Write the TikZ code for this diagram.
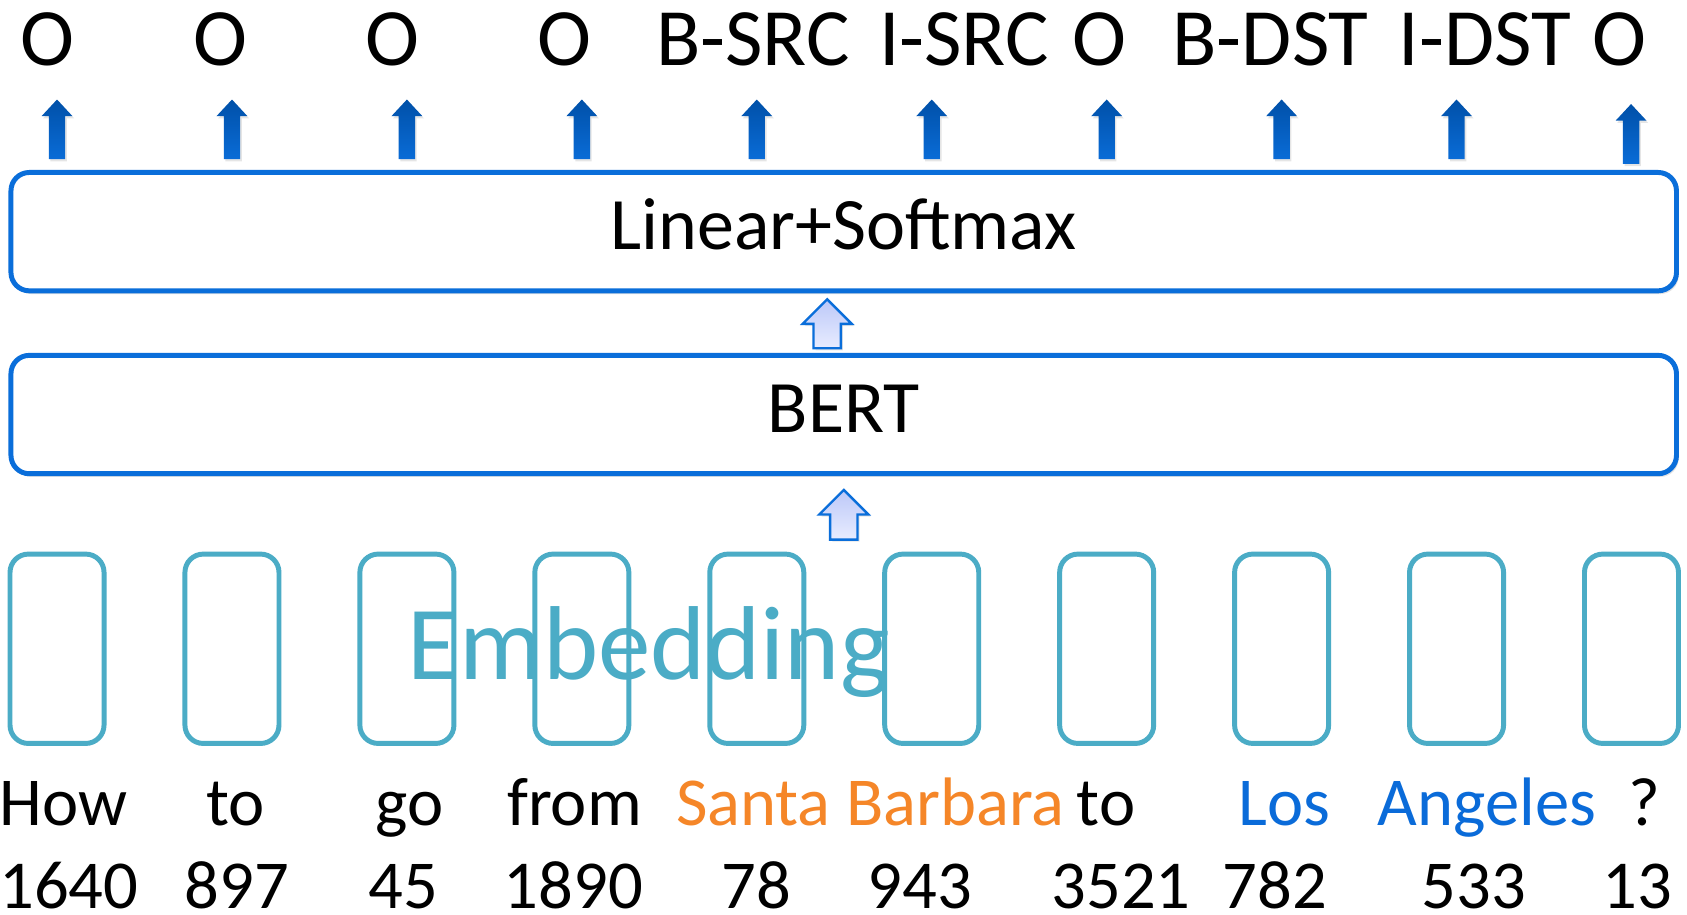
\documentclass[tikz,border=0pt]{standalone}
\usepackage{fontspec}
\setmainfont{Carlito}
\usetikzlibrary{shadows}

\definecolor{boxblue}{RGB}{10,110,218}
\definecolor{arrowtop}{RGB}{0,80,168}
\definecolor{arrowbot}{RGB}{10,108,215}
\definecolor{hollowtop}{RGB}{188,200,248}
\definecolor{hollowbot}{RGB}{232,236,255}
\definecolor{embteal}{RGB}{75,172,198}
\definecolor{srcorange}{RGB}{245,134,40}
\definecolor{dstblue}{RGB}{10,107,217}

% block arrow pointing up: #1 style, #2 centre x, #3 tip y, #4 foot y,
% #5 half head width, #6 half shaft width, #7 head height, #8 name
\newcommand\upblock[8]{%
  \path[#1] (#2-#6,#4) -- (#2-#6,#3+#7) -- (#2-#5,#3+#7) -- (#2,#3)
    -- (#2+#5,#3+#7) -- (#2+#6,#3+#7) -- (#2+#6,#4) -- cycle;
  \coordinate (#8) at (#2,#3);}

\tikzset{
  layerbox/.style={draw=boxblue, line width=4.6bp, rounded corners=17bp,
    fill=white, minimum width=1548bp, minimum height=110bp, inner sep=0pt,
    text height=44bp, text depth=11bp,
    drop shadow={opacity=0.22, shadow xshift=2bp, shadow yshift=-3bp},
    font=\fontsize{69}{80}\selectfont},
  embbox/.style={draw=embteal, line width=4.6bp, rounded corners=17bp,
    minimum width=87.4bp, minimum height=176bp, inner sep=0pt},
  tagtext/.style={anchor=base, inner sep=0pt, font=\fontsize{76}{86}\selectfont},
  wordtext/.style={anchor=base, inner sep=0pt, font=\fontsize{64}{74}\selectfont},
  solidarrow/.style={top color=arrowtop, bottom color=arrowbot, draw=none,
    drop shadow={opacity=0.2, shadow xshift=1.5bp, shadow yshift=-2bp}},
  hollowarrow/.style={top color=hollowtop, bottom color=hollowbot,
    draw=boxblue, line width=2.2bp, line join=miter,
    drop shadow={opacity=0.2, shadow xshift=2bp, shadow yshift=-2bp}},
}

\begin{document}
\begin{tikzpicture}[x=1bp, y=-1bp]
\useasboundingbox[fill=white] (0,0) rectangle (1568,850);

% output tags
\node[tagtext] (t1) at (44.5,61) {O};
\node[tagtext] (t2) at (205,61) {O};
\node[tagtext] (t3) at (365,61) {O};
\node[tagtext] (t4) at (525,61) {O};
\node[tagtext] (t5) at (700,61) {B-SRC};
\node[tagtext] (t6) at (896,61) {I-SRC};
\node[tagtext] (t7) at (1022,61) {O};
\node[tagtext] (t8) at (1181,61) {B-DST};
\node[tagtext] (t9) at (1380,61) {I-DST};
\node[tagtext] (t10) at (1505,61) {O};

% arrows from the classifier to the tags
\foreach \i/\cx in {1/53,2/215.6,3/378.2,4/540.8,5/703.4,6/866,7/1028.6,8/1191.2,9/1353.8}
  {\upblock{solidarrow}{\cx}{92.5}{148}{14.4}{7.6}{15.5}{a\i}}
\upblock{solidarrow}{1516}{96.7}{152.4}{14.4}{7.6}{15.5}{a10}

% model layers
\node[layerbox] (lin) at (784.2,215.3) {Linear+Softmax};
\node[layerbox] (bert) at (784.2,385.3) {BERT};

\upblock{hollowarrow}{768.8}{278.2}{323.7}{22.8}{12.7}{22.8}{h1}
\upblock{hollowarrow}{784.3}{455.4}{501.5}{22.8}{12.7}{22.8}{h2}

% token embeddings
\foreach \i/\cx in {1/53,2/215.6,3/378.2,4/540.8,5/703.4,6/866,7/1028.6,8/1191.2,9/1353.8,10/1516.4}
  \node[embbox] (e\i) at (\cx,603) {};
\node[anchor=base, inner sep=0pt, text=embteal, font=\fontsize{98}{110}\selectfont]
  (emb) at (603,632) {Embedding};

% input words
\node[wordtext] (w1) at (59,767) {How};
\node[wordtext] (w2) at (219,767) {to};
\node[wordtext] (w3) at (381,767) {go};
\node[wordtext] (w4) at (534,767) {from};
\node[wordtext, text=srcorange] (w5) at (809,767) {Santa Barbara};
\node[wordtext] (w6) at (1028,767) {to};
\node[wordtext, text=dstblue] (w7) at (1194,767) {Los};
\node[wordtext, text=dstblue] (w8) at (1382,767) {Angeles};
\node[wordtext] (w9) at (1528,767) {?};

% token ids
\node[wordtext] (n1) at (64,844) {1640};
\node[wordtext] (n2) at (220,844) {897};
\node[wordtext] (n3) at (375,844) {45};
\node[wordtext] (n4) at (533,844) {1890};
\node[wordtext] (n5) at (703,844) {78};
\node[wordtext] (n6) at (855,844) {943};
\node[wordtext] (n7) at (1042,844) {3521};
\node[wordtext] (n8) at (1185,844) {782};
\node[wordtext] (n9) at (1370,844) {533};
\node[wordtext] (n10) at (1522,844) {13};
\end{tikzpicture}
\end{document}
